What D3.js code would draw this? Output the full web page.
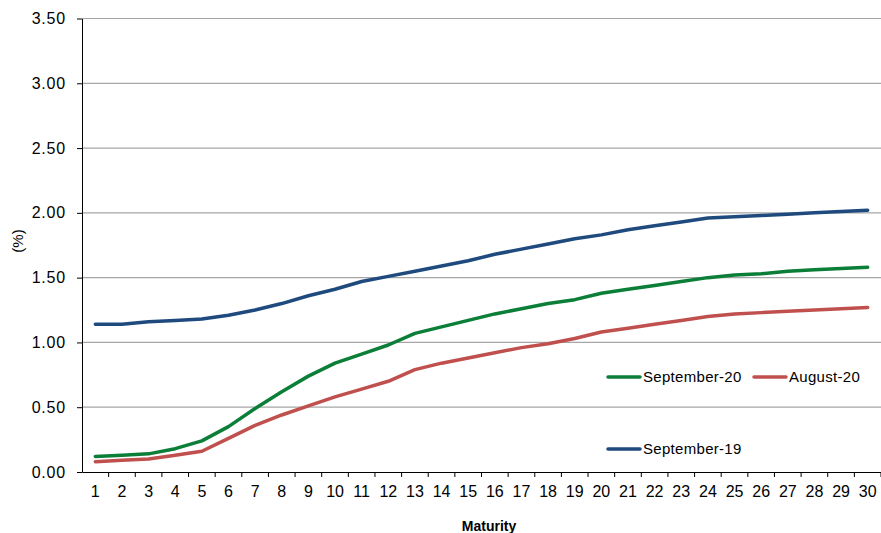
<!DOCTYPE html>
<html><head><meta charset="utf-8">
<script src="https://cdn.jsdelivr.net/npm/d3@7"></script>
<style>body{margin:0;background:#fff;}svg{display:block;font-family:"Liberation Sans",Arial,sans-serif;}</style>
</head><body>
<svg id="c" width="881" height="533"></svg>
<script>
const maturities = d3.range(1, 31);
const yTicks = [0, 0.5, 1.0, 1.5, 2.0, 2.5, 3.0, 3.5];
const sep19 = [1.14,1.14,1.16,1.17,1.18,1.21,1.25,1.30,1.36,1.41,1.47,1.51,1.55,1.59,1.63,1.68,1.72,1.76,1.80,1.83,1.87,1.90,1.93,1.96,1.97,1.98,1.99,2.00,2.01,2.02];
const sep20 = [0.12,0.13,0.14,0.18,0.24,0.35,0.49,0.62,0.74,0.84,0.91,0.98,1.07,1.12,1.17,1.22,1.26,1.30,1.33,1.38,1.41,1.44,1.47,1.50,1.52,1.53,1.55,1.56,1.57,1.58];
const aug20 = [0.08,0.09,0.10,0.13,0.16,0.26,0.36,0.44,0.51,0.58,0.64,0.70,0.79,0.84,0.88,0.92,0.96,0.99,1.03,1.08,1.11,1.14,1.17,1.20,1.22,1.23,1.24,1.25,1.26,1.27];
const series = [
  {name:"September-19", values:sep19, color:"#1f4a7e"},
  {name:"August-20", values:aug20, color:"#c0504d"},
  {name:"September-20", values:sep20, color:"#0b7e38"}
];

const svg = d3.select("#c");
const L = 82, R = 881, T = 18.5, B = 472;
const x = d3.scaleBand().domain(maturities).range([L, R]);
const y = d3.scaleLinear().domain([0, 3.5]).range([B, T]);

// gridlines
svg.append("g").selectAll("line").data(yTicks.filter(d=>d>0)).join("line")
  .attr("x1", L).attr("x2", R).attr("y1", d=>y(d)).attr("y2", d=>y(d))
  .attr("stroke", "#a6a6a6").attr("stroke-width", 1.2);

// y axis
const ya = svg.append("g").attr("transform", `translate(${L},0)`)
  .call(d3.axisLeft(y).tickValues(yTicks).tickFormat(d3.format(".2f")).tickSize(5).tickSizeOuter(0));
ya.select(".domain").attr("stroke", "#000");
ya.selectAll(".tick line").attr("stroke", "#000");
ya.selectAll(".tick text").attr("font-size", 16).attr("letter-spacing", 0.8).attr("fill", "#000").attr("x", -16).attr("font-family", "Liberation Sans, Arial, sans-serif");

// x axis
const xa = svg.append("g").attr("transform", `translate(0,${B})`)
  .call(d3.axisBottom(x).tickSize(0).tickSizeOuter(0));
xa.select(".domain").attr("stroke", "#000");
xa.selectAll(".tick text").attr("font-size", 16).attr("fill", "#000").attr("dy", 0).attr("y", 25).attr("font-family", "Liberation Sans, Arial, sans-serif");
// category boundary ticks
svg.append("g").selectAll("line").data(maturities).join("line")
  .attr("x1", d=>x(d)+x.bandwidth()).attr("x2", d=>x(d)+x.bandwidth())
  .attr("y1", B).attr("y2", B+5).attr("stroke", "#000");

// lines
const line = d3.line().x((d,i)=>x(maturities[i]) + x.bandwidth()/2).y(d=>y(d));
svg.append("g").selectAll("path").data(series).join("path")
  .attr("d", d=>line(d.values)).attr("fill", "none")
  .attr("stroke", d=>d.color).attr("stroke-width", 3.5)
  .attr("stroke-linejoin", "round").attr("stroke-linecap", "round");

// legend
const legend = [
  {s:series[2], lx:608, ly:377},
  {s:series[1], lx:754, ly:377},
  {s:series[0], lx:608, ly:449}
];
const lg = svg.append("g");
legend.forEach(e=>{
  lg.append("line").attr("x1", e.lx).attr("x2", e.lx+32).attr("y1", e.ly).attr("y2", e.ly)
    .attr("stroke", e.s.color).attr("stroke-width", 3.5).attr("stroke-linecap","round");
  lg.append("text").attr("x", e.lx+35).attr("y", e.ly+5).attr("font-size", 15).attr("letter-spacing", 0.3).attr("fill","#000").text(e.s.name);
});

// axis titles
svg.append("text").attr("x", 489).attr("y", 531).attr("text-anchor","middle")
  .attr("font-size", 14).attr("font-weight","bold").text("Maturity");
svg.append("text").attr("transform","translate(23,241) rotate(-90)").attr("text-anchor","middle")
  .attr("font-size", 15).text("(%)");
</script>
</body></html>
